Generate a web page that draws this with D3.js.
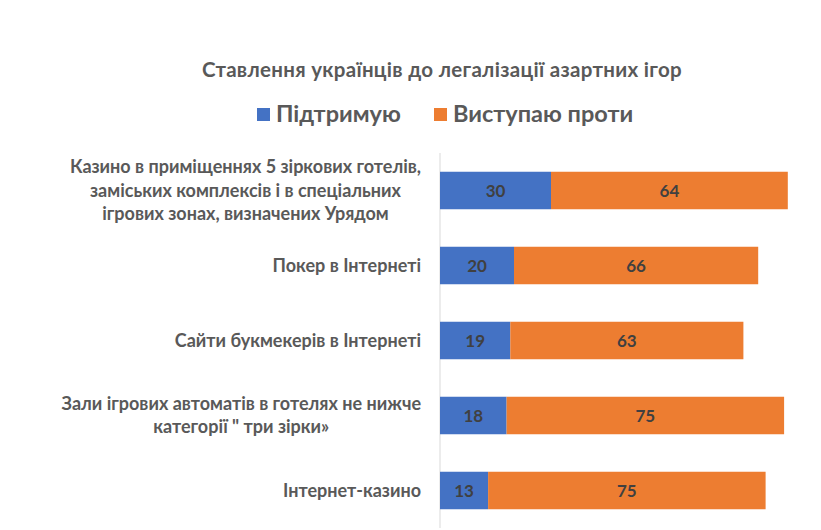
<!DOCTYPE html>
<html><head><meta charset="utf-8">
<script src="https://cdn.jsdelivr.net/npm/d3@7/dist/d3.min.js"></script>
<style>body{margin:0;background:#fff}svg{display:block}</style>
</head><body>
<svg id="c" width="821" height="530"></svg>
<script>
const categories = [
  ["Казино в приміщеннях 5 зіркових готелів,", "заміських комплексів і в спеціальних", "ігрових зонах, визначених Урядом"],
  ["Покер в Інтернеті"],
  ["Сайти букмекерів в Інтернеті"],
  ["Зали ігрових автоматів в готелях не нижче", "категорії \" три зірки»"],
  ["Інтернет-казино"]
];
const support = [30, 20, 19, 18, 13];
const against = [64, 66, 63, 75, 75];
const seriesNames = ["Підтримую", "Виступаю проти"];
const colors = ["#4472C4", "#ED7D31"];
const title = "Ставлення українців до легалізації азартних ігор";

const svg = d3.select("#c");
const font = "Lato, 'Open Sans', sans-serif";
const x0 = 440;
const x = d3.scaleLinear().domain([0, 100]).range([x0, x0 + 370]);
const y = d3.scaleBand().domain(d3.range(categories.length)).range([153, 528]).paddingInner(0.5).paddingOuter(0.25);

svg.append("text").attr("x", 442).attr("y", 77).attr("text-anchor", "middle")
  .attr("font-family", font).attr("font-weight", "bold").attr("font-size", 20.5)
  .attr("fill", "#595959").attr("letter-spacing", 0.3).text(title);

// legend
const lg = svg.append("g");
const lx = [257, 434];
seriesNames.forEach((n, i) => {
  lg.append("rect").attr("x", lx[i]).attr("y", 108).attr("width", 13).attr("height", 13).attr("fill", colors[i]);
  lg.append("text").attr("x", lx[i] + 19).attr("y", 122).attr("font-family", font).attr("font-weight", "bold")
    .attr("font-size", 23.5).attr("fill", "#595959").text(n);
});

// axis line
svg.append("line").attr("x1", x0).attr("x2", x0).attr("y1", 153).attr("y2", 528)
  .attr("stroke", "#D9D9D9").attr("stroke-width", 1);

const rows = svg.append("g").selectAll("g").data(d3.range(categories.length)).join("g");
rows.append("rect").attr("x", i => x(0)).attr("y", i => y(i)).attr("width", i => x(support[i]) - x(0))
  .attr("height", y.bandwidth()).attr("fill", colors[0]);
rows.append("rect").attr("x", i => x(support[i])).attr("y", i => y(i))
  .attr("width", i => x(support[i] + against[i]) - x(support[i])).attr("height", y.bandwidth()).attr("fill", colors[1]);
rows.append("text").attr("x", i => (x(0) + x(support[i])) / 2).attr("y", i => y(i) + y.bandwidth() / 2 + 6)
  .attr("text-anchor", "middle").attr("font-family", font).attr("font-weight", "bold").attr("font-size", 17)
  .attr("fill", "#404040").text(i => support[i]);
rows.append("text").attr("x", i => (x(support[i]) + x(support[i] + against[i])) / 2).attr("y", i => y(i) + y.bandwidth() / 2 + 6)
  .attr("text-anchor", "middle").attr("font-family", font).attr("font-weight", "bold").attr("font-size", 17)
  .attr("fill", "#404040").text(i => against[i]);

// category labels
const lh = 23.5;
rows.each(function(i) {
  const g = d3.select(this);
  const lines = categories[i];
  const t = g.append("text").attr("font-family", font).attr("font-weight", "bold").attr("font-size", 18)
    .attr("fill", "#595959").attr("text-anchor", "middle");
  const cy = y(i) + y.bandwidth() / 2;
  const startY = cy - (lines.length - 1) * lh / 2 + 6;
  const spans = lines.map((l, k) => t.append("tspan").attr("y", startY + k * lh).text(l));
  let maxW = 0;
  spans.forEach(s => { maxW = Math.max(maxW, s.node().getComputedTextLength()); });
  const cx = 421 - maxW / 2;
  spans.forEach(s => s.attr("x", cx));
});
</script>
</body></html>
